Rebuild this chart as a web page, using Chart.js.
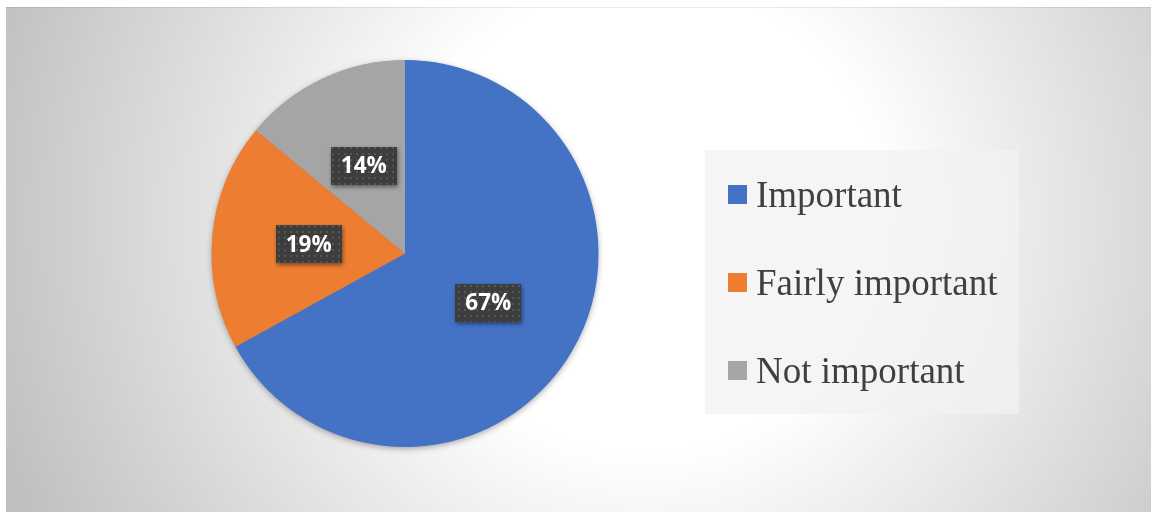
<!DOCTYPE html>
<html>
<head>
<meta charset="utf-8">
<script src="https://cdn.jsdelivr.net/npm/chart.js@4/dist/chart.umd.min.js"></script>
<style>
  html, body { margin: 0; padding: 0; background: #fff; }
  .frame { position: absolute; left: 6px; top: 7px; width: 1145px; height: 505px; }
</style>
</head>
<body>
<div class="frame"><canvas id="myChart"></canvas></div>
<script>
const categories = ['Important', 'Fairly important', 'Not important'];
const shares = [67, 19, 14]; // percent
const sliceColors = ['#4472C4', '#ED7D31', '#A5A5A5'];

// dotted dark fill used behind the value labels
function dotPattern(ctx) {
  const p = document.createElement('canvas');
  p.width = 6; p.height = 6;
  const c = p.getContext('2d');
  c.fillStyle = '#3d3d3d';
  c.fillRect(0, 0, 6, 6);
  c.fillStyle = '#565656';
  c.fillRect(2, 2, 2, 2);
  return ctx.createPattern(p, 'repeat');
}

const background = {
  id: 'background',
  beforeDraw(chart) {
    const { ctx, width, height } = chart;
    ctx.save();
    const g = ctx.createRadialGradient(640, 210, 0, 640, 210, 690);
    g.addColorStop(0, '#ffffff');
    g.addColorStop(0.34, '#ffffff');
    g.addColorStop(1, '#bfbfbf');
    ctx.fillStyle = g;
    ctx.fillRect(0, 0, width, height);
    ctx.fillStyle = 'rgba(0,0,0,0.08)';
    ctx.fillRect(0, 0, width, 1);
    ctx.restore();
  },
  beforeDatasetsDraw(chart) {
    // soft shadow under the whole pie
    const arc = chart.getDatasetMeta(0).data[0];
    if (!arc) return;
    const { ctx } = chart;
    ctx.save();
    ctx.shadowColor = 'rgba(0,0,0,0.35)';
    ctx.shadowBlur = 6;
    ctx.shadowOffsetY = 2;
    ctx.fillStyle = '#888';
    ctx.beginPath();
    ctx.arc(arc.x, arc.y, arc.outerRadius - 0.5, 0, Math.PI * 2);
    ctx.fill();
    ctx.restore();
  }
};

const labelsAndLegend = {
  id: 'labelsAndLegend',
  afterDraw(chart) {
    const { ctx } = chart;
    const meta = chart.getDatasetMeta(0);
    const fill = dotPattern(ctx);

    // value labels in the middle of each slice
    ctx.save();
    ctx.font = 'bold 22.5px "Open Sans"';
    ctx.textAlign = 'center';
    ctx.textBaseline = 'middle';
    meta.data.forEach((arc, i) => {
      const pos = arc.tooltipPosition();
      const text = shares[i] + '%';
      const w = ctx.measureText(text).width + 20;
      const h = 38;
      ctx.save();
      ctx.shadowColor = 'rgba(0,0,0,0.45)';
      ctx.shadowBlur = 4;
      ctx.shadowOffsetX = 1;
      ctx.shadowOffsetY = 2;
      ctx.fillStyle = fill;
      ctx.fillRect(Math.round(pos.x - w / 2), Math.round(pos.y - h / 2), Math.round(w), h);
      ctx.restore();
      ctx.fillStyle = '#ffffff';
      ctx.fillText(text, pos.x, pos.y + 1);
    });
    ctx.restore();

    // legend panel
    const bx = 699, by = 143, bw = 314, bh = 264;
    ctx.save();
    ctx.fillStyle = 'rgba(242,242,242,0.75)';
    ctx.fillRect(bx, by, bw, bh);
    ctx.font = '37px "Liberation Serif"';
    ctx.textAlign = 'left';
    ctx.textBaseline = 'alphabetic';
    categories.forEach((name, i) => {
      const cy = 187.5 + i * 88;
      ctx.fillStyle = sliceColors[i];
      ctx.fillRect(722, cy - 9.5, 19, 19);
      ctx.fillStyle = '#404040';
      ctx.fillText(name, 750, cy + 12);
    });
    ctx.restore();
  }
};

const ctx = document.getElementById('myChart').getContext('2d');
const myChart = new Chart(ctx, {
  type: 'pie',
  data: {
    labels: categories,
    datasets: [{
      data: shares,
      backgroundColor: sliceColors,
      borderWidth: 0,
      hoverOffset: 0,
      offset: 0
    }]
  },
  options: {
    responsive: true,
    maintainAspectRatio: false,
    animation: false,
    events: [],
    layout: {
      padding: { left: 205, right: 552, top: 53, bottom: 65 }
    },
    plugins: {
      legend: { display: false },
      tooltip: { enabled: false },
      title: { display: false }
    }
  },
  plugins: [background, labelsAndLegend]
});
</script>
</body>
</html>
